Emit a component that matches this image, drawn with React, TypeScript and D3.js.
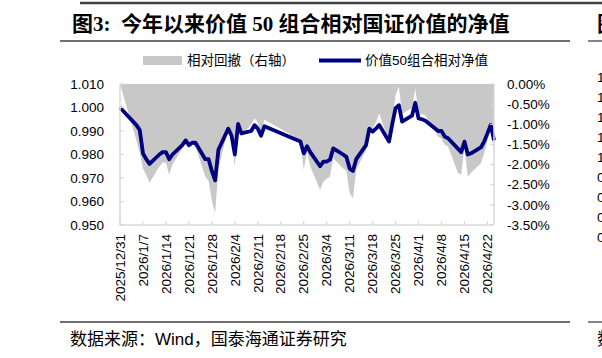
import React from "react";
import * as d3 from "d3";

const dates = ["2025-12-31","2026-01-05","2026-01-06","2026-01-07","2026-01-08","2026-01-09","2026-01-12","2026-01-13","2026-01-14","2026-01-15","2026-01-16","2026-01-19","2026-01-20","2026-01-21","2026-01-22","2026-01-23","2026-01-26","2026-01-27","2026-01-28","2026-01-29","2026-01-30","2026-02-02","2026-02-03","2026-02-04","2026-02-05","2026-02-06","2026-02-09","2026-02-10","2026-02-11","2026-02-12","2026-02-13","2026-02-24","2026-02-25","2026-02-26","2026-02-27","2026-03-02","2026-03-03","2026-03-04","2026-03-05","2026-03-06","2026-03-09","2026-03-10","2026-03-11","2026-03-12","2026-03-13","2026-03-16","2026-03-17","2026-03-18","2026-03-19","2026-03-20","2026-03-23","2026-03-24","2026-03-25","2026-03-26","2026-03-27","2026-03-30","2026-03-31","2026-04-01","2026-04-02","2026-04-03","2026-04-07","2026-04-08","2026-04-09","2026-04-10","2026-04-13","2026-04-14","2026-04-15","2026-04-16","2026-04-17","2026-04-20","2026-04-21","2026-04-22","2026-04-23","2026-04-24"];

const navValues = [1.000,0.9925,0.9905,0.9805,0.978,0.976,0.980,0.981,0.981,0.978,0.980,0.984,0.986,0.984,0.985,0.985,0.978,0.978,0.973,0.969,0.982,0.991,0.988,0.980,0.993,0.989,0.990,0.9925,0.991,0.988,0.992,0.9855,0.9805,0.9835,0.981,0.975,0.977,0.977,0.9778,0.9826,0.980,0.979,0.974,0.973,0.978,0.984,0.991,0.9897,0.991,0.9926,0.9855,0.993,0.9997,1.001,0.994,0.9965,1.002,0.9954,0.995,0.9945,0.990,0.990,0.9876,0.9869,0.9825,0.981,0.9855,0.980,0.9805,0.983,0.9855,0.989,0.9926,0.986];

const drawdownValues = [0,-1.4,-1.7,-2.1,-2.25,-2.45,-2.05,-1.95,-1.95,-2.25,-2.0,-1.6,-1.4,-1.6,-1.5,-1.55,-2.3,-2.4,-2.9,-3.2,-2.1,-1.1,-1.4,-2.05,-1.0,-1.3,-1.0,-0.85,-0.95,-1.18,-0.89,-1.39,-2.13,-1.68,-2.05,-2.63,-2.42,-2.35,-2.3,-1.84,-2.1,-2.15,-2.71,-2.84,-2.13,-1.64,-1.06,-1.1,-0.95,-0.73,-1.43,-0.9,-0.27,-0.07,-0.73,-0.6,-0.11,-0.73,-0.75,-0.77,-1.31,-1.35,-1.51,-1.55,-2.2,-2.26,-1.56,-2.3,-2.2,-1.97,-1.72,-1.4,-1.06,-1.68];

const xTickDates = ["2025-12-31","2026-01-07","2026-01-14","2026-01-21","2026-01-28","2026-02-04","2026-02-11","2026-02-18","2026-02-25","2026-03-04","2026-03-11","2026-03-18","2026-03-25","2026-04-01","2026-04-08","2026-04-15","2026-04-22"];
const leftTicks = [1.010,1.000,0.990,0.980,0.970,0.960,0.950];
const rightTicks = [0,-0.5,-1.0,-1.5,-2.0,-2.5,-3.0,-3.5];
const neighborTicks = ["1.40","1.30","1.20","1.10","1.00","0.90","0.80","0.70","0.60"];

const titleText = "图3:  今年以来价值 50 组合相对国证价值的净值";
const legendArea = "相对回撤（右轴）";
const legendLine = "价值50组合相对净值";
const sourceText = "数据来源：Wind，国泰海通证券研究";

const parse = d3.timeParse("%Y-%m-%d");

export default function App() {
  const W = 602, H = 358;
  const L = 120, R = 494, T = 84, B = 225;
  const x = d3.scaleTime().domain([parse("2025-12-31")!, parse("2026-04-24")!]).range([L, R]);
  const yL = d3.scaleLinear().domain([0.95, 1.01]).range([B, T]);
  const yR = d3.scaleLinear().domain([-3.5, 0]).range([B, T]);
  const pts = dates.map((d, i) => ({ d: parse(d)!, v: navValues[i], dd: drawdownValues[i] }));
  const area = d3.area<any>().x((p) => x(p.d)).y0(yR(0)).y1((p) => yR(p.dd));
  const line = d3.line<any>().x((p) => x(p.d)).y((p) => yL(p.v));
  const fmtDate = (s: string) => { const dt = parse(s)!; return `${dt.getFullYear()}/${dt.getMonth() + 1}/${dt.getDate()}`; };
  const axisColor = "#d9d9d9";
  const sans = "'Liberation Sans', Arial, sans-serif";
  const cjk = "'Liberation Sans', 'Noto Sans CJK SC', sans-serif";
  const navy = "#000080";
  return (
    <svg width={W} height={H} style={{ position: "absolute", left: 0, top: 0, background: "#fff" }} xmlns="http://www.w3.org/2000/svg">
      <rect x={0} y={0} width={W} height={H} fill="#fff" />
      {/* frame lines */}
      <line x1={80} x2={602} y1={3} y2={3} stroke="#404040" strokeWidth={2.5} />
      <line x1={60} x2={570} y1={41} y2={41} stroke="#404040" strokeWidth={1.3} />
      <line x1={588} x2={602} y1={41} y2={41} stroke="#404040" strokeWidth={1.3} />
      <line x1={60} x2={570} y1={322} y2={322} stroke="#404040" strokeWidth={1.3} />
      <line x1={588} x2={602} y1={322} y2={322} stroke="#404040" strokeWidth={1.3} />
      <text x={72} y={31} fontFamily="'Liberation Serif', 'Noto Sans CJK SC', serif" fontWeight={700} fontSize={21} fill="#000" style={{ whiteSpace: "pre" }}>{titleText}</text>
      <text x={597} y={31} fontFamily="'Liberation Serif', 'Noto Sans CJK SC', serif" fontWeight={700} fontSize={21} fill="#000">图4:</text>
      {/* legend */}
      <rect x={143} y={56} width={39} height={9} fill="#c8c8c8" />
      <text x={187} y={60.5} dy="0.35em" fontFamily={cjk} fontSize={13.5} fill="#000">{legendArea}</text>
      <line x1={319} x2={361} y1={60.5} y2={60.5} stroke={navy} strokeWidth={4} />
      <text x={365} y={60.5} dy="0.35em" fontFamily={cjk} fontSize={13.5} fill="#000">{legendLine}</text>
      {/* area & line */}
      <path d={area(pts) || ""} fill="#c8c8c8" />
      <path d={line(pts) || ""} fill="none" stroke={navy} strokeWidth={3.8} strokeLinejoin="round" />
      {/* axes */}
      <line x1={L} x2={L} y1={T} y2={B} stroke={axisColor} strokeWidth={1.5} />
      <line x1={R} x2={R} y1={T} y2={B} stroke={axisColor} strokeWidth={1.5} />
      <line x1={L} x2={R} y1={B} y2={B} stroke={axisColor} strokeWidth={1.5} />
      {leftTicks.map((t) => (
        <g key={"l" + t}>
          <line x1={L} x2={L + 4} y1={yL(t)} y2={yL(t)} stroke={axisColor} strokeWidth={1.2} />
          <text x={104} y={yL(t)} dy="0.35em" textAnchor="end" fontFamily={sans} fontSize={13.5} fill="#000">{t.toFixed(3)}</text>
        </g>
      ))}
      {rightTicks.map((t) => (
        <g key={"r" + t}>
          <line x1={R - 4} x2={R} y1={yR(t)} y2={yR(t)} stroke={axisColor} strokeWidth={1.2} />
          <text x={507} y={yR(t)} dy="0.35em" textAnchor="start" fontFamily={sans} fontSize={13.5} fill="#000">{t.toFixed(2) + "%"}</text>
        </g>
      ))}
      {xTickDates.map((s) => {
        const xp = x(parse(s)!);
        return (
          <g key={"x" + s}>
            <line x1={xp} x2={xp} y1={B - 4} y2={B} stroke={axisColor} strokeWidth={1.2} />
            <text transform={`translate(${xp},234) rotate(-90)`} dy="0.35em" textAnchor="end" fontFamily={sans} fontSize={13.5} fill="#000">{fmtDate(s)}</text>
          </g>
        );
      })}
      {neighborTicks.map((t, i) => (
        <text key={"n" + t} x={597} y={77 + i * 20} dy="0.35em" fontFamily={sans} fontSize={13.5} fill="#000">{t}</text>
      ))}
      {/* source */}
      <text x={70} y={339} dy="0.35em" fontFamily={cjk} fontSize={17} fill="#000">{sourceText}</text>
      <text x={597} y={339} dy="0.35em" fontFamily={cjk} fontSize={17} fill="#000">数据来源</text>
    </svg>
  );
}
